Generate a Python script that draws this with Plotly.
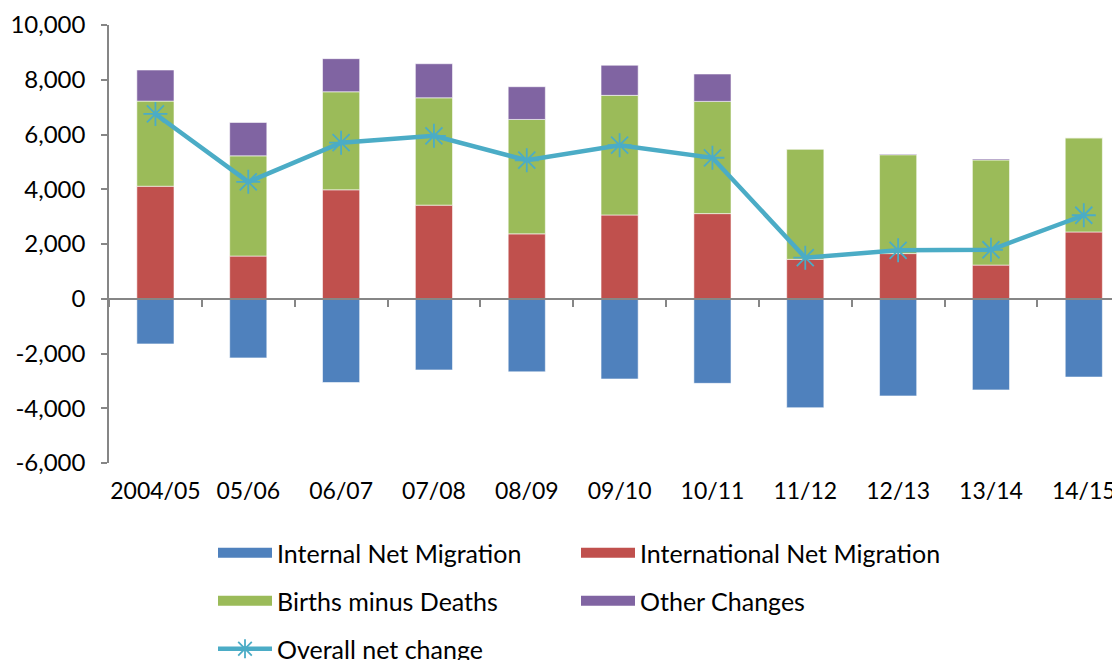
import plotly.graph_objects as go

categories = ["2004/05", "05/06", "06/07", "07/08", "08/09", "09/10", "10/11", "11/12", "12/13", "13/14", "14/15"]
internal_net = [-1650, -2160, -3060, -2600, -2670, -2930, -3090, -3980, -3550, -3330, -2860]
international_net = [4110, 1560, 3980, 3420, 2370, 3060, 3110, 1440, 1650, 1230, 2440]
births_minus_deaths = [3110, 3660, 3580, 3920, 4180, 4370, 4100, 4030, 3610, 3840, 3440]
other_changes = [1135, 1220, 1210, 1245, 1195, 1100, 1000, 0, 25, 37, 0]
overall_net = [6750, 4270, 5700, 5950, 5060, 5610, 5150, 1500, 1770, 1790, 3050]

y_ticks = [-6000, -4000, -2000, 0, 2000, 4000, 6000, 8000, 10000]
y_tick_labels = ["-6,000", "-4,000", "-2,000", "0", "2,000", "4,000", "6,000", "8,000", "10,000"]

C_BLUE = "#4F81BD"
C_RED = "#C0504D"
C_GREEN = "#9BBB59"
C_PURPLE = "#8064A2"
C_LINE = "#4BACC6"
AX = "#868686"
FONT = "Lato"

W, H = 1120, 660
OFF = 8  # page body offset
L, R, T, B = 108.5 - OFF, OFF, 25 - OFF, H - (462.7 - OFF)

fig = go.Figure()
bar_line = dict(color="rgba(255,255,255,0.55)", width=1)
for name, vals, col in [
    ("Internal Net Migration", internal_net, C_BLUE),
    ("International Net Migration", international_net, C_RED),
    ("Births minus Deaths", births_minus_deaths, C_GREEN),
    ("Other Changes", other_changes, C_PURPLE),
]:
    fig.add_trace(go.Bar(x=categories, y=vals, name=name, width=0.4,
                         marker=dict(color=col, line=bar_line), showlegend=False))

fig.add_trace(go.Scatter(x=categories, y=overall_net, name="Overall net change",
                         mode="lines+markers", line=dict(color=C_LINE, width=4.5),
                         marker=dict(symbol="asterisk-open", size=20,
                                     color=C_LINE, line=dict(color=C_LINE, width=1.8)),
                         showlegend=False))

# axis at zero with boundary ticks
fig.add_trace(go.Scatter(x=categories, y=[None] * len(categories), xaxis="x2", yaxis="y",
                         showlegend=False, hoverinfo="skip", mode="lines"))

# legend entries (wide swatches), one legend per entry for exact placement
col1_x, col2_x = 205, 568
rows_y = [553 - OFF, 601 - OFF, 649 - OFF]
legend_items = [
    ("Internal Net Migration", C_BLUE, "legend", col1_x, rows_y[0]),
    ("International Net Migration", C_RED, "legend2", col2_x, rows_y[0]),
    ("Births minus Deaths", C_GREEN, "legend3", col1_x, rows_y[1]),
    ("Other Changes", C_PURPLE, "legend4", col2_x, rows_y[1]),
]
for name, col, lg, _, _ in legend_items:
    fig.add_trace(go.Scatter(x=[None], y=[None], mode="lines", name=name,
                             line=dict(color=col, width=10), legend=lg, hoverinfo="skip"))
fig.add_trace(go.Scatter(x=[None], y=[None], mode="lines+markers", name="Overall net change",
                         line=dict(color=C_LINE, width=4.5),
                         marker=dict(symbol="asterisk-open", size=16, color=C_LINE,
                                     line=dict(color=C_LINE, width=1.8)),
                         legend="legend5", hoverinfo="skip"))

leg_common = dict(orientation="h", xanchor="left", yanchor="middle",
                  xref="container", yref="container",
                  font=dict(family=FONT, size=25, color="#000000"),
                  itemwidth=54, bgcolor="rgba(0,0,0,0)",
                  itemclick=False, itemdoubleclick=False)
legends = {}
for _, _, lg, lx, ly in legend_items:
    legends[lg] = dict(x=lx / W, y=1 - ly / H, **leg_common)
legends["legend5"] = dict(x=col1_x / W, y=1 - rows_y[2] / H, **leg_common)

fig.update_layout(
    width=W, height=H, autosize=False,
    margin=dict(l=L, r=R, t=T, b=B, pad=0, autoexpand=False),
    paper_bgcolor="white", plot_bgcolor="white",
    barmode="relative", bargap=0.6,
    font=dict(family=FONT, size=23, color="#000000"),
    xaxis=dict(type="category", categoryorder="array", categoryarray=categories,
               range=[-0.5, 10.39], showline=False, ticks="", showgrid=False,
               zeroline=False, ticklabelstandoff=12,
               tickfont=dict(family=FONT, size=23, color="#000000")),
    xaxis2=dict(type="category", matches="x", overlaying="x", anchor="free",
                position=6000 / 16000, showline=True, linecolor=AX, linewidth=2,
                ticks="outside", ticklen=7, tickwidth=1.5, tickcolor=AX,
                tickson="boundaries", showticklabels=False, showgrid=False, zeroline=False),
    yaxis=dict(range=[-6000, 10000], tickvals=y_ticks, ticktext=y_tick_labels,
               showline=True, linecolor=AX, linewidth=1.5, ticks="outside",
               ticklen=6, tickwidth=1.5, tickcolor=AX, showgrid=False, zeroline=False,
               ticklabelstandoff=11,
               tickfont=dict(family=FONT, size=24, color="#000000")),
    showlegend=True,
    **legends,
)

fig.write_html("out.html")
